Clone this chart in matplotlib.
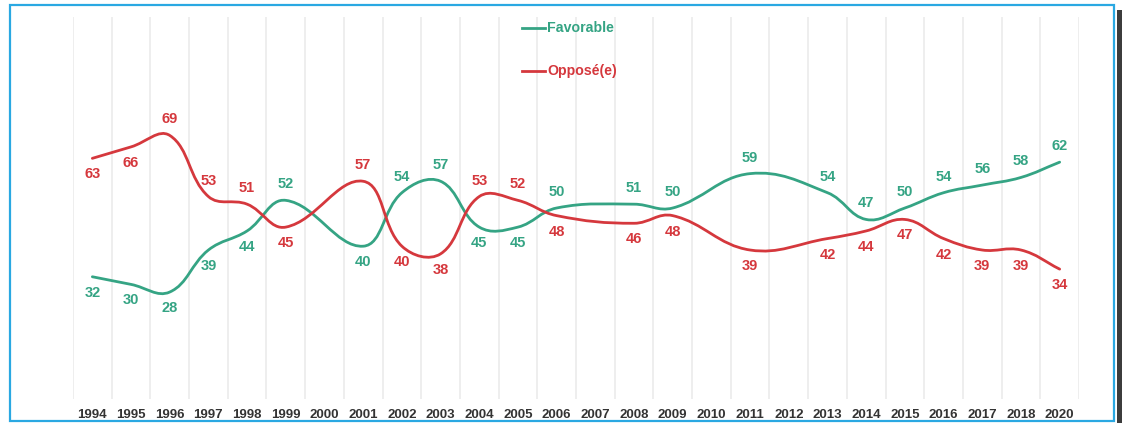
import numpy as np
import matplotlib
matplotlib.use("Agg")
import matplotlib.pyplot as plt
from matplotlib.path import Path
from matplotlib.patches import PathPatch, Rectangle
from matplotlib.lines import Line2D

plt.rcParams['font.family'] = ['Liberation Sans', 'DejaVu Sans']

annees = ['1994', '1995', '1996', '1997', '1998', '1999', '2000', '2001', '2002',
          '2003', '2004', '2005', '2006', '2007', '2008', '2009', '2010', '2011',
          '2012', '2013', '2014', '2015', '2016', '2017', '2018', '2020']
nan = np.nan
favorable = [32, 30, 28, 39, 44, 52, nan, 40, 54, 57, 45, 45, 50, nan, 51, 50, nan,
             59, nan, 54, 47, 50, 54, 56, 58, 62]
oppose = [63, 66, 69, 53, 51, 45, nan, 57, 40, 38, 53, 52, 48, nan, 46, 48, nan,
          39, nan, 42, 44, 47, 42, 39, 39, 34]

# placement des etiquettes: +1 au-dessus, -1 en dessous
pos_fav = [-1, -1, -1, -1, -1, 1, 0, -1, 1, 1, -1, -1, 1, 0, 1, 1, 0,
           1, 0, 1, 1, 1, 1, 1, 1, 1]
pos_opp = [-1, -1, 1, 1, 1, -1, 0, 1, -1, -1, 1, 1, -1, 0, -1, -1, 0,
           -1, 0, -1, -1, -1, -1, -1, -1, -1]

vert = '#35a484'
rouge = '#d5383d'

W, H = 1122, 423
fig = plt.figure(figsize=(W / 100, H / 100), dpi=100)
ax = fig.add_axes([73 / W, (H - 399) / H, 1006 / W, 382 / H])
ax.set_xlim(-0.5, len(annees) - 0.5)
ax.set_ylim(0, 100)


def courbe(xs, ys, sx=38.7, sy=3.82, t=0.4):
    # spline type chart.js, calculee en pixels
    px = np.array(xs) * sx
    py = np.array(ys) * sy
    n = len(px)
    verts = [(px[0], py[0])]
    codes = [Path.MOVETO]
    cps = []
    for i in range(n):
        p0 = (px[max(i - 1, 0)], py[max(i - 1, 0)])
        p1 = (px[i], py[i])
        p2 = (px[min(i + 1, n - 1)], py[min(i + 1, n - 1)])
        d01 = np.hypot(p1[0] - p0[0], p1[1] - p0[1])
        d12 = np.hypot(p2[0] - p1[0], p2[1] - p1[1])
        s01 = d01 / (d01 + d12) if d01 + d12 else 0
        s12 = d12 / (d01 + d12) if d01 + d12 else 0
        fa, fb = t * s01, t * s12
        prev = (p1[0] - fa * (p2[0] - p0[0]), p1[1] - fa * (p2[1] - p0[1]))
        nxt = (p1[0] + fb * (p2[0] - p0[0]), p1[1] + fb * (p2[1] - p0[1]))
        cps.append((prev, nxt))
    for i in range(1, n):
        verts += [cps[i - 1][1], cps[i][0], (px[i], py[i])]
        codes += [Path.CURVE4] * 3
    verts = [(x / sx, y / sy) for x, y in verts]
    return Path(verts, codes)


for serie, couleur, pos in [(favorable, vert, pos_fav), (oppose, rouge, pos_opp)]:
    xs = [i for i, v in enumerate(serie) if not np.isnan(v)]
    ys = [serie[i] for i in xs]
    ax.add_patch(PathPatch(courbe(xs, ys), fill=False, edgecolor=couleur,
                           lw=2.0, capstyle='round', zorder=3))
    for i in xs:
        ax.annotate(f'{serie[i]:.0f}', (i, serie[i]), xytext=(0, 11.5 * pos[i]),
                    textcoords='offset points', ha='center', va='center',
                    color=couleur, fontsize=10.5, fontweight='bold', zorder=4)

for b in np.arange(-0.5, len(annees), 1):
    ax.axvline(b, color='#ededed', lw=1.3, zorder=1)

ax.set_xticks(range(len(annees)))
ax.set_xticklabels(annees, fontsize=9.5, fontweight='bold', color='#333333')
ax.tick_params(axis='x', length=0, pad=7)
ax.set_yticks([])
for s in ax.spines.values():
    s.set_visible(False)

# legende
for y, nom, c in [(28, 'Favorable', vert), (71, 'Opposé(e)', rouge)]:
    fig.add_artist(Line2D([522 / W, 545 / W], [1 - y / H, 1 - y / H],
                          color=c, lw=2.0, transform=fig.transFigure))
    fig.text(547 / W, 1 - y / H, nom, color=c, fontsize=10.2, fontweight='bold',
             va='center', ha='left')

# cadre bleu et ombre
fig.add_artist(Rectangle((10 / W, 2 / H), 1104 / W, 416 / H, fill=False,
                         edgecolor='#2aa8e2', lw=1.6, transform=fig.transFigure))
fig.add_artist(Rectangle((1117 / W, 0), 5 / W, 1 - 10 / H, color='#3c3c3c',
                         transform=fig.transFigure, lw=0))

fig.savefig('out.png', dpi=100)
